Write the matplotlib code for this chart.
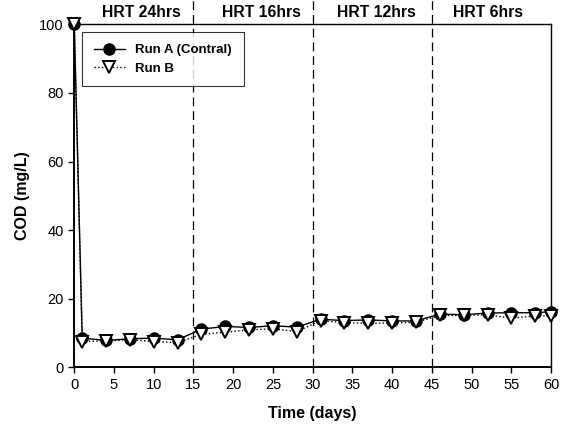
import numpy as np
import matplotlib.pyplot as plt

plt.rcParams['font.family'] = ['Liberation Sans', 'DejaVu Sans']

# data
days = [0, 1, 4, 7, 10, 13, 16, 19, 22, 25, 28, 31, 34, 37, 40, 43, 46, 49, 52, 55, 58, 60]
run_a = [100, 8.5, 7.8, 8.3, 8.5, 8.0, 11.1, 11.9, 11.6, 12.1, 11.7, 14.0, 13.6, 13.8,
         13.5, 13.5, 15.5, 15.3, 15.8, 15.9, 15.9, 16.2]
run_b = [100, 7.5, 7.7, 8.0, 7.5, 7.2, 9.6, 10.2, 10.9, 11.2, 10.4, 13.6, 13.0, 12.8,
         12.9, 13.1, 15.1, 15.1, 15.3, 14.3, 15.0, 14.8]

hrt_bounds = [15, 30, 45]
hrt_labels = ['HRT 24hrs', 'HRT 16hrs', 'HRT 12hrs', 'HRT 6hrs']
hrt_label_x = [8.5, 23.5, 38, 52]

fig = plt.figure(figsize=(5.67, 4.28), dpi=100)
ax = fig.add_axes([0.131, 0.142, 0.841, 0.801])

ax.plot(days, run_b, ':', color='black', lw=1, marker='v', ms=8,
        mfc='white', mec='black', mew=1.4, label='Run B', zorder=3, clip_on=False)
ax.plot(days, run_a, '-', color='black', lw=1, marker='o', ms=8,
        mfc='black', mec='black', label='Run A (Contral)', zorder=2, clip_on=False)

for b in hrt_bounds:
    ax.plot([b, b], [0, 107], color='black', lw=0.9, ls=(0, (7, 4)),
            clip_on=False, zorder=1)

for lab, x in zip(hrt_labels, hrt_label_x):
    ax.text(x, 103.4, lab, ha='center', va='center', fontsize=11.3, fontweight='bold')

ax.set_xlim(0, 60)
ax.set_ylim(0, 100)
ax.set_xticks(np.arange(0, 61, 5))
ax.set_yticks(np.arange(0, 101, 20))
ax.tick_params(direction='out', length=4, width=1, labelsize=10.5)
for s in ['left', 'bottom']:
    ax.spines[s].set_linewidth(1.4)
for s in ['top', 'right']:
    ax.spines[s].set_linewidth(1.0)

ax.set_xlabel('Time (days)', fontsize=11.5, fontweight='bold', labelpad=10)
ax.set_ylabel('COD (mg/L)', fontsize=11.5, fontweight='bold', labelpad=7)

h, l = ax.get_legend_handles_labels()
leg = ax.legend(h[::-1], l[::-1], loc='upper left', bbox_to_anchor=(0.017, 0.977),
                borderaxespad=0, fancybox=False, edgecolor='black',
                prop={'weight': 'bold', 'size': 9.5},
                handlelength=2.3, borderpad=0.9, labelspacing=0.45)
leg.get_frame().set_linewidth(0.8)

fig.savefig('out.png', dpi=100)
